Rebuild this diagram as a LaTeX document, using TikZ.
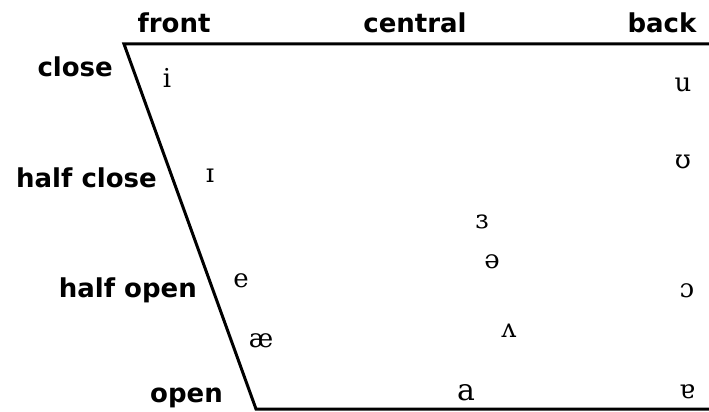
\documentclass[tikz,border=0pt]{standalone}
\usepackage{fontspec}
\setmainfont{DejaVu Serif}
\newfontfamily\labelfont{DejaVu Sans}
\tikzset{
  axislabel/.style={font=\labelfont\bfseries\fontsize{26}{26}\selectfont,inner sep=0pt},
  vowel/.style={font=\fontsize{26}{26}\selectfont,inner sep=0pt,anchor=base}
}
\begin{document}
\begin{tikzpicture}[x=1pt,y=-1pt,line join=miter]
\useasboundingbox (0,0) rectangle (709,412);
\path
(124,44) coordinate (FC)
(709,44) coordinate (BC)
(256,409) coordinate (FO)
(709,409) coordinate (BO)
;
\draw[line width=3pt] (BC)--(FC)--(FO)--(BO);
% columns
\foreach \n/\x/\t in {front/174/front, central/415/central, back/662/back}
\node[axislabel,anchor=base] (\n) at (\x,33) {\t};
% rows
\foreach \n/\x/\y/\t in {close/113/77/close, halfclose/157/187/half close, halfopen/197/297/half open, open/223/402/open}
\node[axislabel,anchor=base east] (\n) at (\x,\y) {\t};
% vowels
\foreach \n/\x/\y/\t in {vi/167/87/i, vI/210/182/ɪ, vu/683/92/u, vU/683/168/ʊ, ve/241/287/e, vae/261/347/æ, vrev/482/228/ɜ, vschwa/492/268/ə, vturnv/509/337/ʌ, vo/687/297/ɔ, vturna/687/398/ɐ}
\node[vowel] (\n) at (\x,\y) {\t};
\node[vowel,font=\fontsize{30}{30}\selectfont] (va) at (466,400) {a};
\end{tikzpicture}
\end{document}
